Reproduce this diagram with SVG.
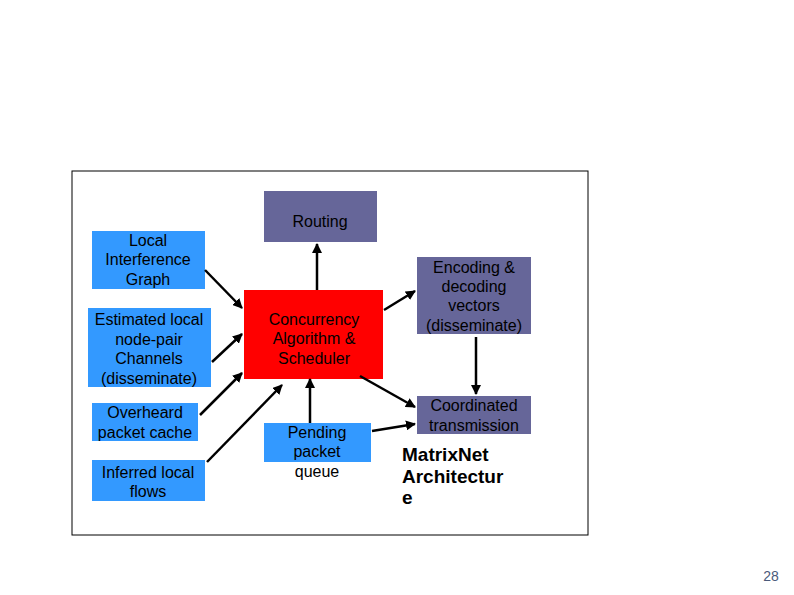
<svg xmlns="http://www.w3.org/2000/svg" width="794" height="595" viewBox="0 0 794 595">
<style>
text{font-family:"Liberation Sans",Arial,sans-serif;font-size:16px;text-anchor:middle}
.b{fill:#3399ff}.p{fill:#666699}.r{fill:#ff0000}
.c line{stroke:#000;stroke-width:2.5;marker-end:url(#a)}
</style>
<defs><marker id="a" viewBox="0 0 10 10" refX="9" refY="5" markerWidth="4" markerHeight="4" orient="auto"><path d="M0,0L10,5L0,10z" fill="#000"/></marker></defs>
<rect width="794" height="595" fill="#fff"/>
<rect x="72" y="171" width="516" height="364" fill="none" stroke="#000" stroke-width="1"/>
<g id="routing"><rect class="p" x="264" y="191" width="113" height="51"/><text x="320" y="227">Routing</text></g>
<g id="lig"><rect class="b" x="92" y="231" width="113" height="58"/><text x="148" y="246">Local</text><text x="148" y="265">Interference</text><text x="148" y="285">Graph</text></g>
<g id="est"><rect class="b" x="88" y="308" width="123" height="79"/><text x="149" y="325">Estimated local</text><text x="149" y="345">node-pair</text><text x="149" y="364">Channels</text><text x="149" y="384">(disseminate)</text></g>
<g id="over"><rect class="b" x="92" y="403" width="106" height="38"/><text x="145" y="418">Overheard</text><text x="145" y="438">packet cache</text></g>
<g id="inf"><rect class="b" x="92" y="460" width="113" height="41"/><text x="148" y="478">Inferred local</text><text x="148" y="497">flows</text></g>
<g id="conc"><rect class="r" x="244" y="290" width="139" height="89"/><text x="314" y="325">Concurrency</text><text x="314" y="344">Algorithm &amp;</text><text x="314" y="364">Scheduler</text></g>
<g id="pend"><rect class="b" x="264" y="423" width="107" height="39"/><text x="317" y="438">Pending</text><text x="317" y="457">packet</text><text x="317" y="477">queue</text></g>
<g id="enc"><rect class="p" x="417" y="257" width="114" height="77"/><text x="474" y="273">Encoding &amp;</text><text x="474" y="292">decoding</text><text x="474" y="311">vectors</text><text x="474" y="331">(disseminate)</text></g>
<g id="coord"><rect class="p" x="417" y="396" width="114" height="38"/><text x="474" y="411">Coordinated</text><text x="474" y="431">transmission</text></g>
<g id="title" style="font-weight:bold;font-size:19px"><text x="402" y="461" style="text-anchor:start;font-size:19px">MatrixNet</text><text x="402" y="483" style="text-anchor:start;font-size:19px">Architectur</text><text x="402" y="504" style="text-anchor:start;font-size:19px">e</text></g>
<text x="771" y="581" style="font-size:14px;fill:#4a5a7a">28</text>
<g class="c">
<line x1="205" y1="270" x2="242" y2="308"/>
<line x1="212" y1="362" x2="242" y2="334"/>
<line x1="200" y1="415" x2="242" y2="373"/>
<line x1="207" y1="462" x2="282" y2="385"/>
<line x1="310" y1="423" x2="310" y2="379"/>
<line x1="317" y1="290" x2="317" y2="244"/>
<line x1="384" y1="310" x2="415" y2="291"/>
<line x1="360" y1="376" x2="415" y2="407"/>
<line x1="372" y1="431" x2="415" y2="424"/>
<line x1="476" y1="337" x2="476" y2="394"/>
</g>
</svg>
